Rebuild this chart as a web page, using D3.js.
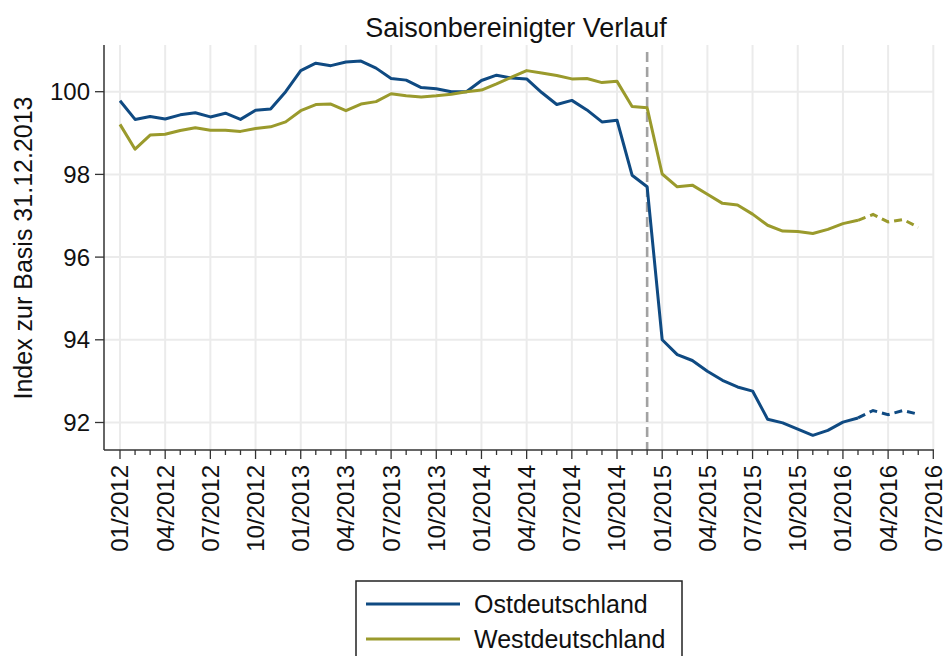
<!DOCTYPE html>
<html>
<head>
<meta charset="utf-8">
<script src="https://cdn.jsdelivr.net/npm/d3@7"></script>
<style>
  body { margin: 0; background: #fff; }
  svg { display: block; font-family: "Liberation Sans", Arial, sans-serif; }
</style>
</head>
<body>
<script>
// monthly data, 01/2012 .. 06/2016
const months = d3.timeMonth.range(new Date(2012, 0, 1), new Date(2016, 5, 2));
const ost = [99.78, 99.33, 99.40, 99.34, 99.44, 99.49, 99.39, 99.48, 99.33, 99.55, 99.58, 100.00,
    100.51, 100.69, 100.63, 100.72, 100.74, 100.57, 100.32, 100.28, 100.10, 100.07, 100.00, 100.00,
    100.27, 100.40, 100.33, 100.31, 99.98, 99.69, 99.79, 99.56, 99.27, 99.31, 97.98, 97.70,
    94.00, 93.64, 93.50, 93.24, 93.02, 92.86, 92.76, 92.08, 91.99, 91.84, 91.69, 91.81,
    92.01, 92.11, 92.29, 92.19, 92.29, 92.20];
const west = [99.21, 98.61, 98.95, 98.97, 99.06, 99.13, 99.07, 99.07, 99.04, 99.11, 99.15, 99.27,
    99.54, 99.69, 99.70, 99.54, 99.70, 99.76, 99.95, 99.90, 99.87, 99.90, 99.94, 100.00,
    100.04, 100.19, 100.35, 100.51, 100.45, 100.39, 100.31, 100.32, 100.22, 100.25, 99.64, 99.61,
    98.01, 97.70, 97.74, 97.52, 97.30, 97.26, 97.04, 96.77, 96.63, 96.62, 96.57, 96.67,
    96.81, 96.89, 97.03, 96.85, 96.91, 96.72];
const seriesNames = ["Ostdeutschland", "Westdeutschland"];
const seriesColors = ["#0f4a82", "#9a9a2c"];
const yTicks = [92, 94, 96, 98, 100];
const tickLabels = ["01/2012", "04/2012", "07/2012", "10/2012", "01/2013", "04/2013", "07/2013",
    "10/2013", "01/2014", "04/2014", "07/2014", "10/2014", "01/2015", "04/2015", "07/2015",
    "10/2015", "01/2016", "04/2016", "07/2016"];
const forecastStart = "02/2016";   // dashed from here
const breakMonth = "12/2014";      // vertical reference line

const width = 946, height = 656;
const plot = { left: 104, right: 934, top: 45, bottom: 450 };

const fmt = d3.timeFormat("%m/%Y");
const parse = d3.timeParse("%m/%Y");
const idx = (d) => (d.getFullYear() - 2012) * 12 + d.getMonth();

const x = d3.scaleLinear().domain([0, 54]).range([120, 933.3]);
const y = d3.scaleLinear().domain([92, 100]).range([422.5, 91.7]);

const svg = d3.select("body").append("svg")
    .attr("width", width)
    .attr("height", height);

svg.append("rect").attr("width", width).attr("height", height).attr("fill", "#fff");

// grid
const tickDates = tickLabels.map(parse);
svg.append("g").selectAll("line").data(tickDates).join("line")
    .attr("x1", (d) => x(idx(d))).attr("x2", (d) => x(idx(d)))
    .attr("y1", plot.top).attr("y2", plot.bottom)
    .attr("stroke", "#ebebeb").attr("stroke-width", 2);
svg.append("g").selectAll("line").data(yTicks).join("line")
    .attr("x1", plot.left).attr("x2", plot.right)
    .attr("y1", (d) => y(d)).attr("y2", (d) => y(d))
    .attr("stroke", "#ebebeb").attr("stroke-width", 2);

// reference line
const bx = x(idx(parse(breakMonth)));
svg.append("line")
    .attr("x1", bx).attr("x2", bx)
    .attr("y1", 52).attr("y2", plot.bottom)
    .attr("stroke", "#a2a2a2").attr("stroke-width", 2.6)
    .attr("stroke-dasharray", "10,5");

// series
const fIdx = idx(parse(forecastStart));
const line = d3.line().x((d) => x(d.i)).y((d) => y(d.v));
[ost, west].forEach((vals, s) => {
    const pts = vals.map((v, k) => ({ i: idx(months[k]), v }));
    svg.append("path")
        .datum(pts.filter((p) => p.i <= fIdx))
        .attr("d", line)
        .attr("fill", "none")
        .attr("stroke", seriesColors[s])
        .attr("stroke-width", 3)
        .attr("stroke-linejoin", "round");
    svg.append("path")
        .datum(pts.filter((p) => p.i >= fIdx))
        .attr("d", line)
        .attr("fill", "none")
        .attr("stroke", seriesColors[s])
        .attr("stroke-width", 3)
        .attr("stroke-dasharray", "8,5");
});

// axes
const xAxis = svg.append("g");
xAxis.append("line")
    .attr("x1", plot.left).attr("x2", plot.right)
    .attr("y1", plot.bottom).attr("y2", plot.bottom)
    .attr("stroke", "#333").attr("stroke-width", 1.5);
xAxis.selectAll(".minor").data(d3.range(0, 55)).join("line")
    .attr("x1", (d) => x(d)).attr("x2", (d) => x(d))
    .attr("y1", plot.bottom).attr("y2", (d) => plot.bottom + (d % 3 === 0 ? 9 : 5))
    .attr("stroke", "#333").attr("stroke-width", 1.3);
xAxis.selectAll("text").data(tickDates).join("text")
    .attr("transform", (d) => `translate(${x(idx(d))},${plot.bottom + 15}) rotate(-90)`)
    .attr("text-anchor", "end")
    .attr("dy", "0.35em")
    .attr("font-size", 24)
    .attr("fill", "#111")
    .text((d) => fmt(d));

const yAxis = svg.append("g");
yAxis.append("line")
    .attr("x1", plot.left).attr("x2", plot.left)
    .attr("y1", plot.top).attr("y2", plot.bottom)
    .attr("stroke", "#333").attr("stroke-width", 1.5);
yAxis.selectAll("line.t").data(yTicks).join("line")
    .attr("x1", plot.left - 9).attr("x2", plot.left)
    .attr("y1", (d) => y(d)).attr("y2", (d) => y(d))
    .attr("stroke", "#333").attr("stroke-width", 1.3);
yAxis.selectAll("text").data(yTicks).join("text")
    .attr("x", 90).attr("y", (d) => y(d))
    .attr("dy", "0.35em")
    .attr("text-anchor", "end")
    .attr("font-size", 24)
    .attr("fill", "#111")
    .text((d) => d);

svg.append("text")
    .attr("transform", "translate(32,248) rotate(-90)")
    .attr("text-anchor", "middle")
    .attr("font-size", 25)
    .attr("fill", "#111")
    .text("Index zur Basis 31.12.2013");

svg.append("text")
    .attr("x", 516).attr("y", 37)
    .attr("text-anchor", "middle")
    .attr("font-size", 27)
    .attr("fill", "#111")
    .text("Saisonbereinigter Verlauf");

// legend
const legend = svg.append("g");
legend.append("rect")
    .attr("x", 356).attr("y", 581)
    .attr("width", 326).attr("height", 90)
    .attr("fill", "#fff").attr("stroke", "#222").attr("stroke-width", 1.5);
seriesNames.forEach((name, s) => {
    const ly = 604 + s * 35;
    legend.append("line")
        .attr("x1", 366).attr("x2", 460)
        .attr("y1", ly).attr("y2", ly)
        .attr("stroke", seriesColors[s]).attr("stroke-width", 3);
    legend.append("text")
        .attr("x", 474).attr("y", ly)
        .attr("dy", "0.35em")
        .attr("font-size", 25)
        .attr("fill", "#111")
        .text(name);
});
</script>
</body>
</html>
